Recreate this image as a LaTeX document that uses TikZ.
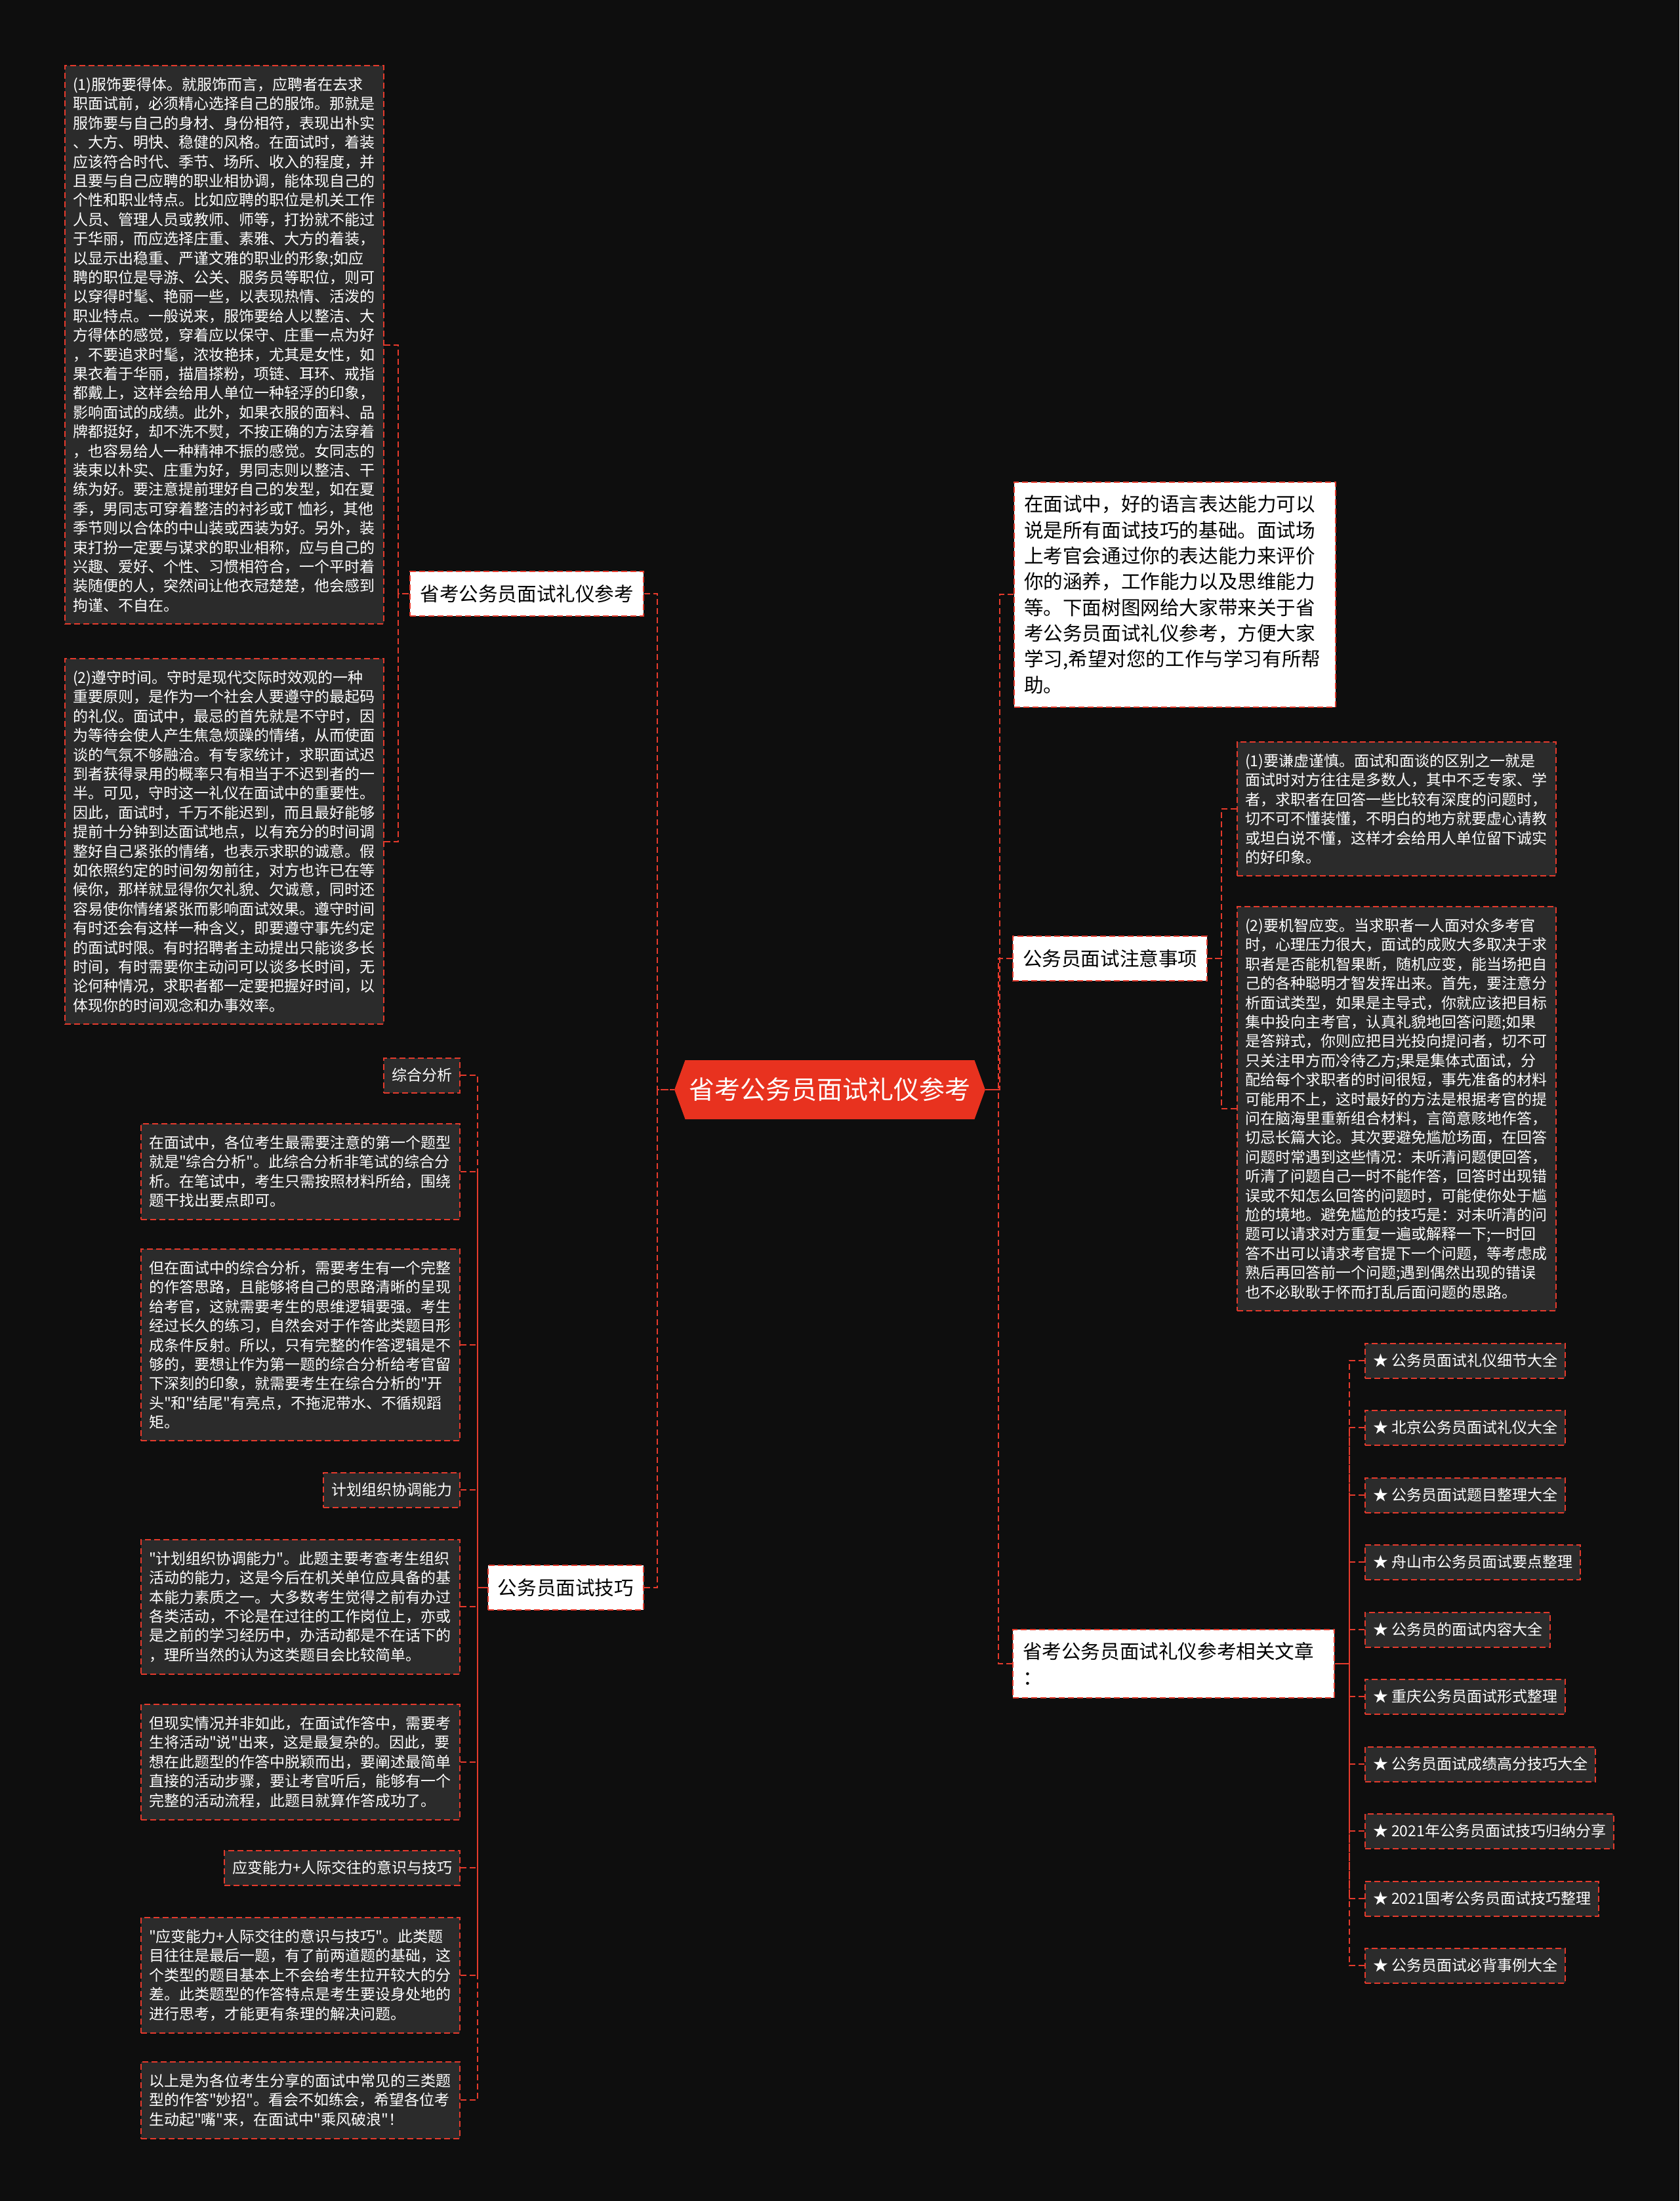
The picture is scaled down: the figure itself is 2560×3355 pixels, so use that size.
\documentclass[tikz,border=0pt]{standalone}
\usepackage{fontspec}
\setmainfont{Noto Sans CJK SC}[Ligatures=TeXOff]
\usepackage{xcolor}
\usetikzlibrary{shapes.symbols}

\definecolor{bgdark}{HTML}{0E0E0E}
\definecolor{boxgray}{HTML}{2B2B2B}
\definecolor{linered}{HTML}{E53A2C}
\definecolor{rootred}{HTML}{E8321F}

\begin{document}
\begin{tikzpicture}[x=0.5pt, y=-0.5pt,
    link/.style={linered, line width=1pt, dash pattern=on 4.5pt off 2.5pt},
    rootnode/.style={signal, signal to=east and west, signal pointer angle=140, fill=rootred, text=white,
        font=\fontsize{19.5pt}{24pt}\selectfont, inner xsep=3pt, minimum height=45pt},
    topic/.style={draw=linered, line width=1pt, dash pattern=on 4.5pt off 2.5pt, fill=white, text=black,
        font=\fontsize{14.8pt}{19.65pt}\selectfont, inner xsep=7.5pt, inner ysep=10pt, minimum height=33.5pt},
    textbox/.style={draw=linered, line width=1pt, dash pattern=on 4.5pt off 2.5pt, fill=boxgray, text=white,
        font=\fontsize{11.5pt}{14.7pt}\selectfont, text width=231pt, align=left, inner xsep=6pt, inner ysep=9pt},
    tag/.style={draw=linered, line width=1pt, dash pattern=on 4.5pt off 2.5pt, fill=boxgray, text=white,
        font=\fontsize{11.5pt}{14.7pt}\selectfont, inner xsep=6pt, minimum height=26.5pt}
]
    % Background
    \fill[bgdark] (0,0) rectangle (2560,3355);
    \useasboundingbox (0,0) rectangle (2560,3355);

    % Root
    \node[rootnode] (root) at (1265,1661) {省考公务员面试礼仪参考};

    % Left topics
    \node[topic, anchor=east] (etiquette) at (982,905) {省考公务员面试礼仪参考};
    \node[topic, anchor=east] (skills) at (982,2420) {公务员面试技巧};

    % Right topics
    \node[topic, anchor=north west, text width=230pt, align=left] (intro) at (1545,734) {在面试中，好的语言表达能力可以\\说是所有面试技巧的基础。面试场\\上考官会通过你的表达能力来评价\\你的涵养，工作能力以及思维能力\\等。下面树图网给大家带来关于省\\考公务员面试礼仪参考，方便大家\\学习,希望对您的工作与学习有所帮\\助。};
    \node[topic, anchor=west] (notice) at (1543,1461) {公务员面试注意事项};
    \node[topic, anchor=west, text width=230pt, align=left] (related) at (1543,2536) {省考公务员面试礼仪参考相关文章\\：};

    % Etiquette details
    \node[textbox, anchor=north west] (dress) at (98,99) {(1)服饰要得体。就服饰而言，应聘者在去求\\职面试前，必须精心选择自己的服饰。那就是\\服饰要与自己的身材、身份相符，表现出朴实\\、大方、明快、稳健的风格。在面试时，着装\\应该符合时代、季节、场所、收入的程度，并\\且要与自己应聘的职业相协调，能体现自己的\\个性和职业特点。比如应聘的职位是机关工作\\人员、管理人员或教师、师等，打扮就不能过\\于华丽，而应选择庄重、素雅、大方的着装，\\以显示出稳重、严谨文雅的职业的形象;如应\\聘的职位是导游、公关、服务员等职位，则可\\以穿得时髦、艳丽一些，以表现热情、活泼的\\职业特点。一般说来，服饰要给人以整洁、大\\方得体的感觉，穿着应以保守、庄重一点为好\\，不要追求时髦，浓妆艳抹，尤其是女性，如\\果衣着于华丽，描眉搽粉，项链、耳环、戒指\\都戴上，这样会给用人单位一种轻浮的印象，\\影响面试的成绩。此外，如果衣服的面料、品\\牌都挺好，却不洗不熨，不按正确的方法穿着\\，也容易给人一种精神不振的感觉。女同志的\\装束以朴实、庄重为好，男同志则以整洁、干\\练为好。要注意提前理好自己的发型，如在夏\\季，男同志可穿着整洁的衬衫或T 恤衫，其他\\季节则以合体的中山装或西装为好。另外，装\\束打扮一定要与谋求的职业相称，应与自己的\\兴趣、爱好、个性、习惯相符合，一个平时着\\装随便的人，突然间让他衣冠楚楚，他会感到\\拘谨、不自在。};
    \node[textbox, anchor=north west] (punctual) at (98,1003) {(2)遵守时间。守时是现代交际时效观的一种\\重要原则，是作为一个社会人要遵守的最起码\\的礼仪。面试中，最忌的首先就是不守时，因\\为等待会使人产生焦急烦躁的情绪，从而使面\\谈的气氛不够融洽。有专家统计，求职面试迟\\到者获得录用的概率只有相当于不迟到者的一\\半。可见，守时这一礼仪在面试中的重要性。\\因此，面试时，千万不能迟到，而且最好能够\\提前十分钟到达面试地点，以有充分的时间调\\整好自己紧张的情绪，也表示求职的诚意。假\\如依照约定的时间匆匆前往，对方也许已在等\\候你，那样就显得你欠礼貌、欠诚意，同时还\\容易使你情绪紧张而影响面试效果。遵守时间\\有时还会有这样一种含义，即要遵守事先约定\\的面试时限。有时招聘者主动提出只能谈多长\\时间，有时需要你主动问可以谈多长时间，无\\论何种情况，求职者都一定要把握好时间，以\\体现你的时间观念和办事效率。};

    % Skills details
    \node[tag, anchor=east] (analysis) at (702,1639) {综合分析};
    \node[textbox, anchor=north east] (analysisA) at (702,1712) {在面试中，各位考生最需要注意的第一个题型\\就是"综合分析"。此综合分析非笔试的综合分\\析。在笔试中，考生只需按照材料所给，围绕\\题干找出要点即可。};
    \node[textbox, anchor=north east] (analysisB) at (702,1903) {但在面试中的综合分析，需要考生有一个完整\\的作答思路，且能够将自己的思路清晰的呈现\\给考官，这就需要考生的思维逻辑要强。考生\\经过长久的练习，自然会对于作答此类题目形\\成条件反射。所以，只有完整的作答逻辑是不\\够的，要想让作为第一题的综合分析给考官留\\下深刻的印象，就需要考生在综合分析的"开\\头"和"结尾"有亮点，不拖泥带水、不循规蹈\\矩。};
    \node[tag, anchor=east] (planning) at (702,2271) {计划组织协调能力};
    \node[textbox, anchor=north east] (planningA) at (702,2346) {"计划组织协调能力"。此题主要考查考生组织\\活动的能力，这是今后在机关单位应具备的基\\本能力素质之一。大多数考生觉得之前有办过\\各类活动，不论是在过往的工作岗位上，亦或\\是之前的学习经历中，办活动都是不在话下的\\，理所当然的认为这类题目会比较简单。};
    \node[textbox, anchor=north east] (planningB) at (702,2597) {但现实情况并非如此，在面试作答中，需要考\\生将活动"说"出来，这是最复杂的。因此，要\\想在此题型的作答中脱颖而出，要阐述最简单\\直接的活动步骤，要让考官听后，能够有一个\\完整的活动流程，此题目就算作答成功了。};
    \node[tag, anchor=east] (adapt) at (702,2847) {应变能力+人际交往的意识与技巧};
    \node[textbox, anchor=north east] (adaptA) at (702,2922) {"应变能力+人际交往的意识与技巧"。此类题\\目往往是最后一题，有了前两道题的基础，这\\个类型的题目基本上不会给考生拉开较大的分\\差。此类题型的作答特点是考生要设身处地的\\进行思考，才能更有条理的解决问题。};
    \node[textbox, anchor=north east] (summary) at (702,3142) {以上是为各位考生分享的面试中常见的三类题\\型的作答"妙招"。看会不如练会，希望各位考\\生动起"嘴"来，在面试中"乘风破浪"！};

    % Notice details
    \node[textbox, anchor=north west] (modest) at (1885,1130) {(1)要谦虚谨慎。面试和面谈的区别之一就是\\面试时对方往往是多数人，其中不乏专家、学\\者，求职者在回答一些比较有深度的问题时，\\切不可不懂装懂，不明白的地方就要虚心请教\\或坦白说不懂，这样才会给用人单位留下诚实\\的好印象。};
    \node[textbox, anchor=north west] (flexible) at (1885,1381) {(2)要机智应变。当求职者一人面对众多考官\\时，心理压力很大，面试的成败大多取决于求\\职者是否能机智果断，随机应变，能当场把自\\己的各种聪明才智发挥出来。首先，要注意分\\析面试类型，如果是主导式，你就应该把目标\\集中投向主考官，认真礼貌地回答问题;如果\\是答辩式，你则应把目光投向提问者，切不可\\只关注甲方而冷待乙方;果是集体式面试，分\\配给每个求职者的时间很短，事先准备的材料\\可能用不上，这时最好的方法是根据考官的提\\问在脑海里重新组合材料，言简意赅地作答，\\切忌长篇大论。其次要避免尴尬场面，在回答\\问题时常遇到这些情况：未听清问题便回答，\\听清了问题自己一时不能作答，回答时出现错\\误或不知怎么回答的问题时，可能使你处于尴\\尬的境地。避免尴尬的技巧是：对未听清的问\\题可以请求对方重复一遍或解释一下;一时回\\答不出可以请求考官提下一个问题，等考虑成\\熟后再回答前一个问题;遇到偶然出现的错误\\也不必耿耿于怀而打乱后面问题的思路。};

    % Related articles
    \node[tag, anchor=west] (art1) at (2080,2074) {★ 公务员面试礼仪细节大全};
    \node[tag, anchor=west] (art2) at (2080,2176) {★ 北京公务员面试礼仪大全};
    \node[tag, anchor=west] (art3) at (2080,2279) {★ 公务员面试题目整理大全};
    \node[tag, anchor=west] (art4) at (2080,2381) {★ 舟山市公务员面试要点整理};
    \node[tag, anchor=west] (art5) at (2080,2484) {★ 公务员的面试内容大全};
    \node[tag, anchor=west] (art6) at (2080,2586) {★ 重庆公务员面试形式整理};
    \node[tag, anchor=west] (art7) at (2080,2689) {★ 公务员面试成绩高分技巧大全};
    \node[tag, anchor=west] (art8) at (2080,2791) {★ 2021年公务员面试技巧归纳分享};
    \node[tag, anchor=west] (art9) at (2080,2894) {★ 2021国考公务员面试技巧整理};
    \node[tag, anchor=west] (art10) at (2080,2996) {★ 公务员面试必背事例大全};

    % Connectors
    \draw[link] (etiquette.east) -- ++(20,0) |- (root.west);
    \draw[link] (skills.east) -- ++(20,0) |- (root.west);
    \draw[link] (intro.west) -- ++(-21,0) |- (root.east);
    \draw[link] (notice.west) -- ++(-21,0) |- (root.east);
    \draw[link] (related.west) -- ++(-21,0) |- (root.east);

    \draw[link] (dress.east) -- ++(21,0) |- (etiquette.west);
    \draw[link] (punctual.east) -- ++(21,0) |- (etiquette.west);

    \draw[link] (analysis.east) -- ++(26,0) |- (skills.west);
    \draw[link] (analysisA.east) -- ++(26,0) |- (skills.west);
    \draw[link] (analysisB.east) -- ++(26,0) |- (skills.west);
    \draw[link] (planning.east) -- ++(26,0) |- (skills.west);
    \draw[link] (planningA.east) -- ++(26,0) |- (skills.west);
    \draw[link] (planningB.east) -- ++(26,0) |- (skills.west);
    \draw[link] (adapt.east) -- ++(26,0) |- (skills.west);
    \draw[link] (adaptA.east) -- ++(26,0) |- (skills.west);
    \draw[link] (summary.east) -- ++(26,0) |- (skills.west);

    \draw[link] (modest.west) -- ++(-23,0) |- (notice.east);
    \draw[link] (flexible.west) -- ++(-23,0) |- (notice.east);

    \draw[link] (art1.west) -- ++(-23,0) |- (related.east);
    \draw[link] (art2.west) -- ++(-23,0) |- (related.east);
    \draw[link] (art3.west) -- ++(-23,0) |- (related.east);
    \draw[link] (art4.west) -- ++(-23,0) |- (related.east);
    \draw[link] (art5.west) -- ++(-23,0) |- (related.east);
    \draw[link] (art6.west) -- ++(-23,0) |- (related.east);
    \draw[link] (art7.west) -- ++(-23,0) |- (related.east);
    \draw[link] (art8.west) -- ++(-23,0) |- (related.east);
    \draw[link] (art9.west) -- ++(-23,0) |- (related.east);
    \draw[link] (art10.west) -- ++(-23,0) |- (related.east);
\end{tikzpicture}
\end{document}
